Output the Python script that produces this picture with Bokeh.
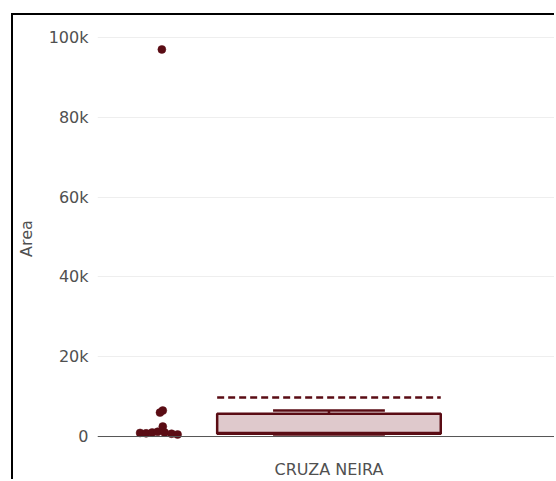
from bokeh.plotting import figure
from bokeh.models import Range1d, Span, FixedTicker, NumeralTickFormatter
from bokeh.embed import file_html
from bokeh.resources import INLINE

# ---- data ----
category = ["CRUZA NEIRA"]
area_values = [97000, 6500, 6000, 2500, 900, 800, 1000, 1200, 1000, 700, 500]
point_offsets = [-0.361, -0.359, -0.365, -0.359, -0.408, -0.395, -0.382, -0.370, -0.355, -0.340, -0.327]
box_lower = [500]
box_q1 = [700]
box_median = [900]
box_q3 = [5700]
box_upper = [6500]
box_mean = [9800]
y_ticks = [0, 20000, 40000, 60000, 80000, 100000]

# ---- styles ----
MAROON = "#5a0c14"
FILL = "#dfc9cc"
TEXT = "#505050"
FONT = "DejaVu Sans"
HALF = 0.2415   # half box width in category units
CAP = HALF / 2
LW = 2.5

p = figure(width=543, height=466, output_backend="svg", toolbar_location=None,
           x_range=Range1d(-0.5, 0.4915), y_range=Range1d(-2750, 102000),
           min_border_left=79, min_border_right=0, min_border_top=14, min_border_bottom=33,
           styles={"border-left": "2px solid black", "border-top": "2px solid black",
                   "margin-left": "11px", "margin-top": "13px"})
p.outline_line_color = None
p.background_fill_color = "white"
p.border_fill_color = "white"

# grid
p.xgrid.grid_line_color = None
p.ygrid.ticker = FixedTicker(ticks=y_ticks)
p.ygrid.grid_line_color = "#eeeeee"
p.ygrid.grid_line_width = 1

# zero line
p.add_layout(Span(location=0, dimension="width", line_color="#555555", line_width=1))

# y axis
ya = p.yaxis[0]
ya.ticker = FixedTicker(ticks=y_ticks)
ya.formatter = NumeralTickFormatter(format="0a")
ya.axis_line_color = None
ya.major_tick_line_color = None
ya.minor_tick_line_color = None
ya.major_label_standoff = 3
ya.major_label_text_font = FONT
ya.major_label_text_font_size = "16px"
ya.major_label_text_color = TEXT
ya.axis_label = "Area"
ya.axis_label_text_font = FONT
ya.axis_label_text_font_size = "16px"
ya.axis_label_text_font_style = "normal"
ya.axis_label_text_color = TEXT
ya.axis_label_standoff = 10

# x axis
xa = p.xaxis[0]
xa.ticker = FixedTicker(ticks=[0])
xa.major_label_overrides = {0: category[0]}
xa.axis_line_color = None
xa.major_tick_line_color = None
xa.minor_tick_line_color = None
xa.major_label_standoff = 6
xa.major_label_text_font = FONT
xa.major_label_text_font_size = "16px"
xa.major_label_text_color = TEXT

cx = [0]
# box
p.quad(left=[c - HALF for c in cx], right=[c + HALF for c in cx], bottom=box_q1, top=box_q3,
       fill_color=FILL, line_color=MAROON, line_width=LW)
# whiskers
p.segment(x0=cx, y0=box_q3, x1=cx, y1=box_upper, line_color=MAROON, line_width=LW)
p.segment(x0=cx, y0=box_q1, x1=cx, y1=box_lower, line_color=MAROON, line_width=LW)
p.segment(x0=[c - CAP for c in cx], y0=box_upper, x1=[c + CAP for c in cx], y1=box_upper,
          line_color=MAROON, line_width=LW)
p.segment(x0=[c - CAP for c in cx], y0=box_lower, x1=[c + CAP for c in cx], y1=box_lower,
          line_color=MAROON, line_width=LW)
# median
p.segment(x0=[c - HALF for c in cx], y0=box_median, x1=[c + HALF for c in cx], y1=box_median,
          line_color=MAROON, line_width=LW)
# mean
p.segment(x0=[c - HALF for c in cx], y0=box_mean, x1=[c + HALF for c in cx], y1=box_mean,
          line_color=MAROON, line_width=LW, line_dash="7 4")
# points
p.scatter(x=[cx[0] + o for o in point_offsets], y=area_values, size=8,
          fill_color=MAROON, line_color=MAROON, line_width=0.5)

open("out.html", "w").write(file_html(p, INLINE))
